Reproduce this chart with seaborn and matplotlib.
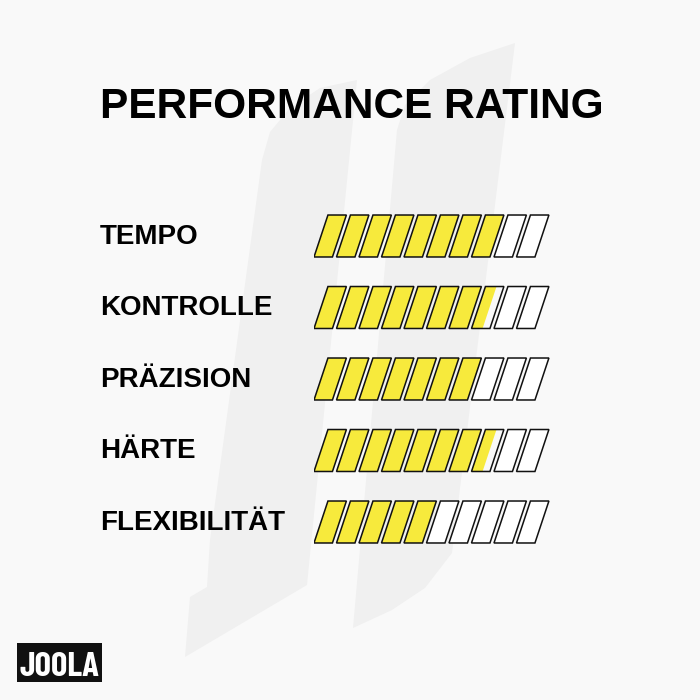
import matplotlib
matplotlib.use("Agg")
import matplotlib.pyplot as plt
from matplotlib.patches import Polygon
import seaborn as sns
import numpy as np

# ratings out of 10 segments
categories = ['TEMPO', 'KONTROLLE', 'PRÄZISION', 'HÄRTE', 'FLEXIBILITÄT']
ratings = [8.0, 7.6, 7.0, 7.6, 5.0]
n_segments = 10
title = 'PERFORMANCE RATING'
brand = 'JOOLA'

sns.set_theme(style='white')
plt.rcParams['font.family'] = ['Liberation Sans', 'DejaVu Sans']

bg = '#f9f9f9'
mark = '#f0f0f0'
yellow = '#f7ea3c'

fig = plt.figure(figsize=(7, 7), dpi=100, facecolor=bg)

# faint logo watermark in the background (pixel coords -> figure fraction)
def px(pts):
    return [(x / 700, 1 - y / 700) for x, y in pts]

right_stroke = [(515, 43), (470, 58), (430, 80), (405, 105), (397, 130),
                (353, 628), (392, 610), (425, 588), (452, 553)]
left_stroke = [(357, 80), (320, 88), (290, 108), (270, 132), (262, 160),
               (210, 540), (207, 587), (190, 597), (185, 657), (307, 585)]
for shape in (right_stroke, left_stroke):
    fig.patches.append(Polygon(px(shape), closed=True, transform=fig.transFigure,
                               facecolor=mark, edgecolor='none', zorder=-5))

# bars axes: x in rating units, y in category rows
ax = fig.add_axes([314 / 700, 1 - 557.75 / 700, 238.5 / 700, 357.5 / 700])
ax.set_zorder(2)
ax.set_facecolor('none')
ax.set_xlim(0, 10.6)
ax.set_ylim(len(categories) - 0.5, -0.5)
ax.set_xticks([])
ax.set_yticks([])
sns.despine(ax=ax, left=True, bottom=True)

seg_w = 0.82
slant = 0.62
bar_h = 0.587

for r, val in enumerate(ratings):
    y0 = r + bar_h / 2
    y1 = r - bar_h / 2
    for i in range(n_segments):
        frac = float(np.clip(val - i, 0, 1))
        if frac > 0:
            fw = seg_w * frac
            ax.add_patch(Polygon([(i, y0), (i + fw, y0), (i + fw + slant, y1), (i + slant, y1)],
                                 closed=True, facecolor=yellow, edgecolor='none', zorder=2))
        ax.add_patch(Polygon([(i, y0), (i + seg_w, y0), (i + seg_w + slant, y1), (i + slant, y1)],
                             closed=True, facecolor='white' if frac == 0 else 'none',
                             edgecolor='#111111', linewidth=1.1, zorder=3 if frac > 0 else 1))
    ax.text(-214 / 22.5, r + 0.105, categories[r], fontsize=20, fontweight='bold',
            color='black', ha='left', va='baseline')

fig.text(100 / 700, 1 - 118 / 700, title, fontsize=30.5, fontweight='bold',
         color='black', ha='left', va='baseline')

# brand badge
fig.patches.append(plt.Rectangle((17 / 700, 1 - 682 / 700), 85 / 700, 39 / 700,
                                 transform=fig.transFigure, facecolor='#111111',
                                 edgecolor='none', zorder=1))
fig.text(59.5 / 700, 1 - 675.5 / 700, brand, fontsize=25, fontweight='bold',
         family=['Barlow Condensed', 'Liberation Sans'],
         color='white', ha='center', va='baseline', zorder=3)

fig.savefig('out.png', dpi=100, facecolor=bg)
